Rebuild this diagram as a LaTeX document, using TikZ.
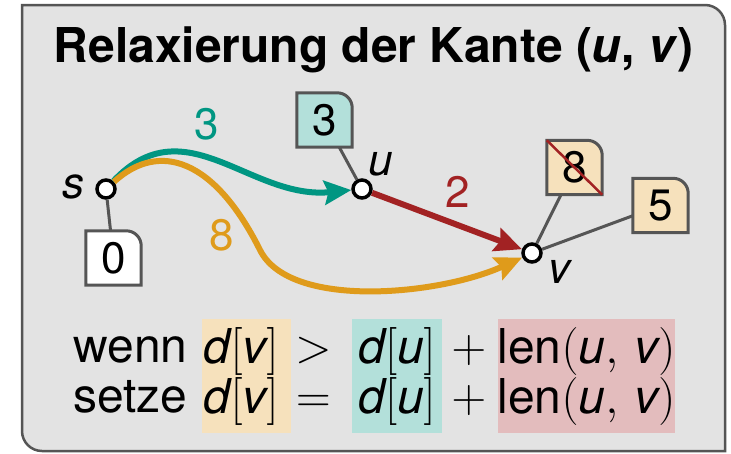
\RequirePackage{fix-cm}
\documentclass[tikz,border=0pt]{standalone}
\usepackage{amsmath}
\usepackage[no-math]{fontspec}
\setmainfont{TeX Gyre Heros}
\usetikzlibrary{arrows.meta,backgrounds}

\definecolor{kitgreen}{HTML}{009682}
\definecolor{kitorange}{HTML}{DF9B1B}
\definecolor{kitred}{HTML}{A22223}
\definecolor{lightgreen}{HTML}{B3E0DA}
\definecolor{lightorange}{HTML}{F6E1BC}
\definecolor{lightred}{HTML}{E3BCBD}
\definecolor{framefill}{HTML}{E3E3E3}
\definecolor{linegray}{HTML}{555555}

\newcommand{\mv}[1]{\textit{#1}}

\tikzset{
  vertex/.style={circle, draw=black, fill=white, line width=3.5pt, minimum size=18pt, inner sep=0pt},
  vlabel/.style={font=\fontsize{44}{44}\selectfont\itshape},
  dist/.style={minimum width=55pt, minimum height=54pt, inner sep=0pt, font=\fontsize{44}{44}\selectfont},
  dbox/.style={draw=linegray, line width=3pt},
  pin/.style={draw=linegray, line width=3pt},
  edge/.style={line width=6pt, -{Stealth[length=27pt,width=24pt,inset=4pt]}},
  weight/.style={font=\fontsize{44}{44}\selectfont},
  col/.style={inner sep=0pt, align=center, font=\fontsize{48}{50}\selectfont},
  hl/.style={col, minimum height=114pt}
}

\begin{document}
\begin{tikzpicture}[x=1pt,y=-1pt]
  \useasboundingbox (0,0) rectangle (731,453);
  \node[anchor=base, font=\fontsize{48}{50}\selectfont\bfseries] (title) at (373.5,62)
    {Relaxierung der Kante (\textit{u}, \textit{v})};
  % graph
  \node[vertex] (s) at (106,189) {};
  \node[vertex] (u) at (362,189) {};
  \node[vertex] (v) at (532,253) {};
  \node[vlabel] (ls) at (73,187) {s};
  \node[vlabel] (lu) at (381,164) {u};
  \node[vlabel] (lv) at (559,272) {v};
  % distances
  \node[dist] (d0) at (113.5,258) {0};
  \node[dist] (d3) at (324.5,120) {3};
  \node[dist] (d8) at (574.5,167.5) {8};
  \node[dist] (d5) at (660.5,205.5) {5};
  \draw[pin] (s) -- (d0);
  \draw[pin] (u) -- (d3);
  \draw[pin] (v) -- (d8);
  \draw[pin] (v) -- (d5);
  \draw[kitred, line width=2.5pt] (d8.north west) -- (d8.south east);
  % edges
  \draw[edge, kitgreen] (s) .. controls (185,105) and (250,200) .. (u);
  \draw[edge, kitorange] (s) .. controls (160,140) and (215,160) .. (260,250)
    .. controls (290,310) and (440,295) .. (v);
  \draw[edge, kitred] (u) -- (v);
  \node[weight, kitgreen] (w3) at (207,124) {3};
  \node[weight, kitorange] (w8) at (222,235) {8};
  \node[weight, kitred] (w2) at (458,192) {2};
  % rule
  \node[col, anchor=west, align=left] (words) at (73,375.5)
    {wenn$\vphantom{[]}$\\setze$\vphantom{[]}$};
  \node[hl, fill=lightorange, minimum width=89pt] (dv) at (246.5,376)
    {$\mv{d}[\mv{v}]\mkern4mu$\\$\mv{d}[\mv{v}]\mkern4mu$};
  \node[col] (rel) at (320,375.5) {$>\vphantom{[]}$\\$=\vphantom{[]}$};
  \node[hl, fill=lightgreen, minimum width=90pt] (du) at (397,376)
    {$\mv{d}[\mv{u}]$\\$\mv{d}[\mv{u}]$};
  \node[col] (plus) at (469,375.5) {$+\vphantom{[]}$\\$+\vphantom{[]}$};
  \node[hl, fill=lightred, minimum width=177pt] (len) at (586.5,376)
    {$\text{len}(\mv{u},\,\mv{v})$\\$\text{len}(\mv{u},\,\mv{v})$};
  \begin{scope}[on background layer]
    \filldraw[draw=linegray, fill=framefill, line width=2.5pt] (22,5) -- (705,5)
      arc[start angle=-90, end angle=0, radius=20] -- (725,451) -- (42,451)
      arc[start angle=90, end angle=180, radius=20] -- cycle;
    \filldraw[dbox, fill=white] (d0.south west) -- (d0.north west) -- ([xshift=-15pt]d0.north east)
      arc[start angle=-90, end angle=0, radius=15] -- (d0.south east) -- cycle;
    \filldraw[dbox, fill=lightgreen] (d3.south west) -- (d3.north west) -- ([xshift=-15pt]d3.north east)
      arc[start angle=-90, end angle=0, radius=15] -- (d3.south east) -- cycle;
    \filldraw[dbox, fill=lightorange] (d8.south west) -- (d8.north west) -- ([xshift=-15pt]d8.north east)
      arc[start angle=-90, end angle=0, radius=15] -- (d8.south east) -- cycle;
    \filldraw[dbox, fill=lightorange] (d5.south west) -- (d5.north west) -- ([xshift=-15pt]d5.north east)
      arc[start angle=-90, end angle=0, radius=15] -- (d5.south east) -- cycle;
  \end{scope}
\end{tikzpicture}
\end{document}
